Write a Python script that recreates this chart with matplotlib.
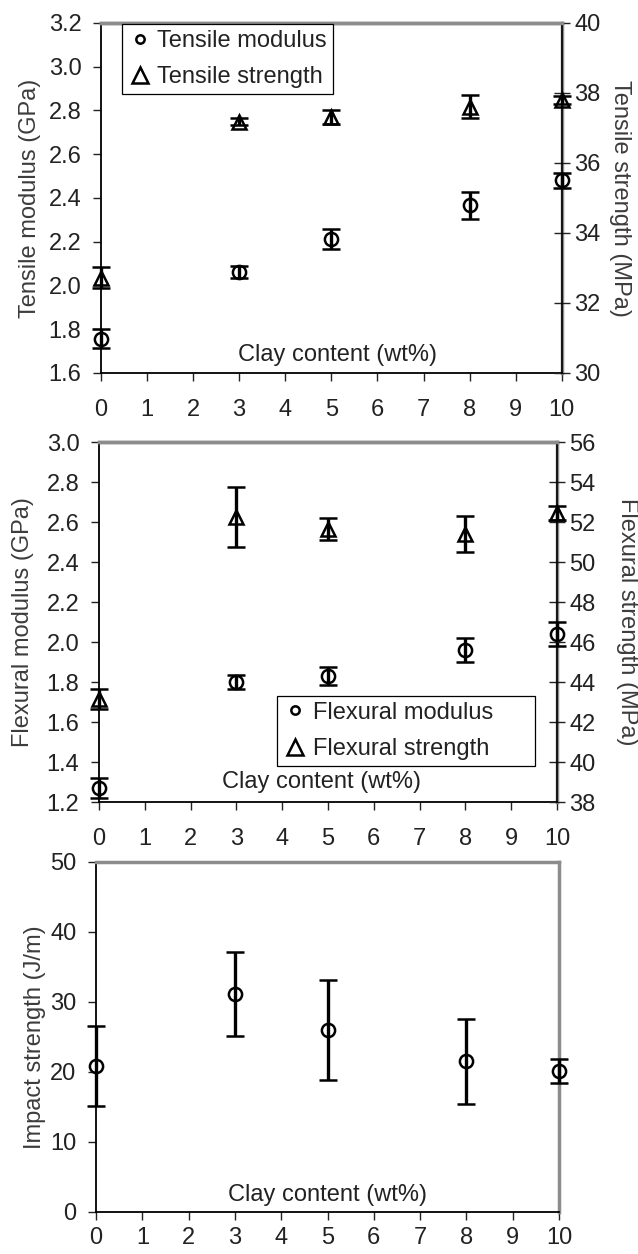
import matplotlib
matplotlib.use('Agg')
import matplotlib.pyplot as plt
from matplotlib.lines import Line2D
import numpy as np

plt.rcParams['font.family'] = ['Liberation Sans', 'DejaVu Sans']
plt.rcParams['font.size'] = 17

# Datos
clay = [0, 3, 5, 8, 10]

tens_mod = [1.757, 2.063, 2.212, 2.366, 2.48]
tens_mod_err = [0.042, 0.027, 0.046, 0.063, 0.035]
tens_str = [32.72, 37.18, 37.3, 37.61, 37.8]
tens_str_err = [0.3, 0.1, 0.2, 0.33, 0.12]

flex_mod = [1.27, 1.80, 1.83, 1.96, 2.04]
flex_mod_err = [0.05, 0.035, 0.045, 0.06, 0.058]
flex_str = [43.15, 52.25, 51.65, 51.4, 52.45]
flex_str_err = [0.5, 1.5, 0.55, 0.9, 0.35]

impact = [20.8, 31.1, 26.0, 21.5, 20.1]
impact_err = [5.7, 6.0, 7.2, 6.1, 1.7]

xlabel = 'Clay content (wt%)'
label_col = '#3c3c3c'
gray = '#8c8c8c'

fig = plt.figure(figsize=(6.38, 12.54), dpi=100)


def base_axes(rect, ylim, yticks, yfmt, xpad=13):
    ax = fig.add_axes(rect)
    ax.set_xlim(0, 10)
    ax.set_xticks(range(0, 11))
    ax.set_ylim(*ylim)
    ax.set_yticks(yticks)
    ax.set_yticklabels([yfmt % v for v in yticks])
    for s in ['left', 'bottom']:
        ax.spines[s].set_color('black')
        ax.spines[s].set_linewidth(1.3)
    for s in ['top', 'right']:
        ax.spines[s].set_color(gray)
        ax.spines[s].set_linewidth(2.5)
    ax.tick_params(axis='x', direction='out', length=6, width=1, pad=xpad, colors='#222222')
    ax.tick_params(axis='y', direction='out', length=6, width=1, pad=8, colors='#222222')
    ax.tick_params(right=False, top=False)
    ax.set_xlabel(xlabel, color='#222222')
    return ax


def errs(ax, y, e, marker, ms):
    ax.errorbar(clay, y, yerr=e, fmt=marker, ms=ms, mfc='none', mec='black', mew=1.8,
                ecolor='black', elinewidth=2.4, capsize=6.5, capthick=3, clip_on=False, zorder=5)


def twin(ax, ylim, yticks, label, lx):
    t = ax.twinx()
    t.set_ylim(*ylim)
    t.set_yticks(yticks)
    t.spines['right'].set_color('black')
    t.spines['right'].set_linewidth(1.2)
    t.spines['top'].set_color(gray)
    t.spines['top'].set_linewidth(2.5)
    t.spines['left'].set_visible(False)
    t.spines['bottom'].set_visible(False)
    t.tick_params(axis='y', direction='inout', length=12, width=1, pad=3, colors='#222222')
    t.set_ylabel(label, color=label_col, rotation=270, va='center', ha='center', rotation_mode='anchor')
    t.yaxis.set_label_coords(lx, 0.5)
    return t


def legend(ax, labels, **kw):
    hs = [Line2D([], [], ls='none', marker='o', ms=6, mfc='none', mec='black', mew=1.8),
          Line2D([], [], ls='none', marker='^', ms=11, mfc='none', mec='black', mew=1.8)]
    leg = ax.legend(hs, labels, fancybox=False, edgecolor='black', framealpha=1,
                    handlelength=1.0, handletextpad=0.25, labelspacing=0.6,
                    borderpad=0.25, borderaxespad=0, **kw)
    leg.get_frame().set_linewidth(0.9)
    for txt in leg.get_texts():
        txt.set_color('#222222')
    return leg


# Panel 1: traccion
ax1 = base_axes([0.158, 0.7026, 0.7226, 0.2791], (1.6, 3.2), np.arange(1.6, 3.21, 0.2), '%.1f')
ax1.set_ylabel('Tensile modulus (GPa)', color=label_col, va='center', ha='center', rotation_mode='anchor')
ax1.yaxis.set_label_coords(-0.154, 0.5)
ax1.xaxis.set_label_coords(0.514, 0.051)
ax1.xaxis.label.set_va('center')
errs(ax1, tens_mod, tens_mod_err, 'o', 9.5)
t1 = twin(ax1, (30, 40), range(30, 41, 2), 'Tensile strength (MPa)', 1.126)
errs(t1, tens_str, tens_str_err, '^', 10.5)
legend(t1, ['Tensile modulus', 'Tensile strength'], loc='upper left', bbox_to_anchor=(0.046, 0.997))

# Panel 2: flexion
ax2 = base_axes([0.155, 0.3604, 0.718, 0.2871], (1.2, 3.0), np.arange(1.2, 3.01, 0.2), '%.1f')
ax2.set_ylabel('Flexural modulus (GPa)', color=label_col, va='center', ha='center', rotation_mode='anchor')
ax2.yaxis.set_label_coords(-0.165, 0.5)
ax2.xaxis.set_label_coords(0.486, 0.056)
ax2.xaxis.label.set_va('center')
errs(ax2, flex_mod, flex_mod_err, 'o', 9.5)
t2 = twin(ax2, (38, 56), range(38, 57, 2), 'Flexural strength (MPa)', 1.153)
errs(t2, flex_str, flex_str_err, '^', 10.5)
legend(t2, ['Flexural modulus', 'Flexural strength'], loc='lower left',
       bbox_to_anchor=(0.389, 0.101, 0.563, 0.2026), mode='expand')

# Panel 3: impacto
ax3 = base_axes([0.1505, 0.0335, 0.7257, 0.2791], (0, 50), range(0, 51, 10), '%d', xpad=5)
ax3.set_ylabel('Impact strength (J/m)', color=label_col, va='center', ha='center', rotation_mode='anchor')
ax3.yaxis.set_label_coords(-0.132, 0.5)
ax3.xaxis.set_label_coords(0.5, 0.049)
ax3.xaxis.label.set_va('center')
errs(ax3, impact, impact_err, 'o', 9.5)

fig.savefig('out.png', dpi=100)
